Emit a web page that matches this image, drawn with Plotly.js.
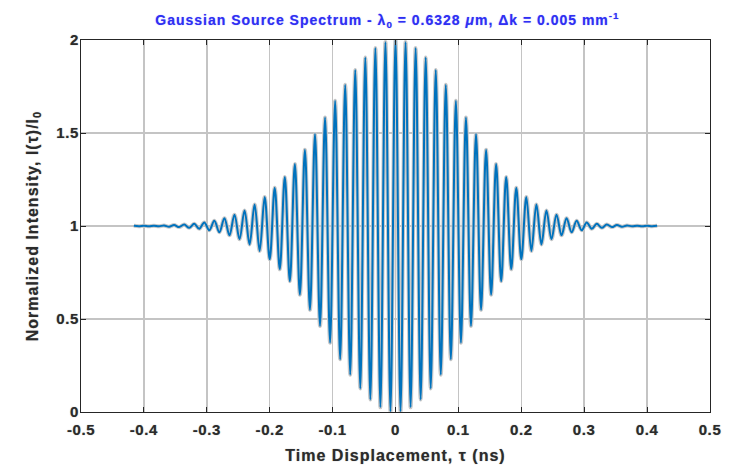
<!DOCTYPE html>
<html>
<head>
<meta charset="utf-8">
<script src="https://cdn.plot.ly/plotly-3.0.1.min.js"></script>
<style>
  html, body { margin: 0; padding: 0; background: #ffffff; }
  #chart { width: 731px; height: 468px; }
  #chart .xtick text, #chart .ytick text { letter-spacing: 0.6px; }
  #chart .xtitle, #chart .ytitle { letter-spacing: 1px; }
  #chart .gtitle { letter-spacing: 1px; }
</style>
</head>
<body>
<div id="chart"></div>
<script>
// Extrema of the interferogram (time in ns, normalized intensity)
const tau = [
  -0.416, -0.408, -0.400, -0.392, -0.384, -0.376, -0.368, -0.360, -0.352, -0.344,
  -0.336, -0.328, -0.320, -0.312, -0.304, -0.296, -0.288, -0.280, -0.272, -0.264,
  -0.256, -0.248, -0.240, -0.232, -0.224, -0.216, -0.208, -0.200, -0.192, -0.184,
  -0.176, -0.168, -0.160, -0.152, -0.144, -0.136, -0.128, -0.120, -0.112, -0.104,
  -0.096, -0.088, -0.080, -0.072, -0.064, -0.056, -0.048, -0.040, -0.032, -0.024,
  -0.016, -0.008, 0.000, 0.008, 0.016, 0.024, 0.032, 0.040, 0.048, 0.056,
  0.064, 0.072, 0.080, 0.088, 0.096, 0.104, 0.112, 0.120, 0.128, 0.136,
  0.144, 0.152, 0.160, 0.168, 0.176, 0.184, 0.192, 0.200, 0.208, 0.216,
  0.224, 0.232, 0.240, 0.248, 0.256, 0.264, 0.272, 0.280, 0.288, 0.296,
  0.304, 0.312, 0.320, 0.328, 0.336, 0.344, 0.352, 0.360, 0.368, 0.376,
  0.384, 0.392, 0.400, 0.408, 0.416
];
const intensity = [
  1.001, 0.999, 1.001, 0.999, 1.002, 0.998, 1.003, 0.996, 1.005, 0.994,
  1.008, 0.990, 1.012, 0.985, 1.019, 0.977, 1.028, 0.966, 1.042, 0.950,
  1.060, 0.929, 1.084, 0.901, 1.116, 0.866, 1.156, 0.821, 1.205, 0.767,
  1.264, 0.703, 1.333, 0.630, 1.410, 0.549, 1.494, 0.462, 1.583, 0.372,
  1.673, 0.283, 1.759, 0.200, 1.839, 0.126, 1.906, 0.067, 1.957, 0.025,
  1.989, 0.003, 2.000, 0.003, 1.989, 0.025, 1.957, 0.067, 1.906, 0.126,
  1.839, 0.200, 1.759, 0.283, 1.673, 0.372, 1.583, 0.462, 1.494, 0.549,
  1.410, 0.630, 1.333, 0.703, 1.264, 0.767, 1.205, 0.821, 1.156, 0.866,
  1.116, 0.901, 1.084, 0.929, 1.060, 0.950, 1.042, 0.966, 1.028, 0.977,
  1.019, 0.985, 1.012, 0.990, 1.008, 0.994, 1.005, 0.996, 1.003, 0.998,
  1.002, 0.999, 1.001, 0.999, 1.001
];
const xTickVals = [-0.5, -0.4, -0.3, -0.2, -0.1, 0, 0.1, 0.2, 0.3, 0.4, 0.5];
const xTickText = ['-0.5', '-0.4', '-0.3', '-0.2', '-0.1', '0', '0.1', '0.2', '0.3', '0.4', '0.5'];
const yTickVals = [0, 0.5, 1, 1.5, 2];
const yTickText = ['0', '0.5', '1', '1.5', '2'];

const chartTitle = 'Gaussian Source Spectrum - λ<sub>0</sub> = 0.6328 <i>μ</i>m, Δk = 0.005 mm<sup>-1</sup>';
const xTitle = 'Time Displacement, τ (ns)';
const yTitle = 'Normalized Intensity, I(τ)/I<sub>0</sub>';

const FONT = 'Liberation Sans, Arial, sans-serif';
const TEXT = '#2b2b2b';
const SHADOW = '0px 0px 1px rgba(60,60,60,0.6)';

const halo = {
  x: tau, y: intensity, type: 'scatter', mode: 'lines',
  line: { color: '#c9c9c9', width: 4, shape: 'spline', smoothing: 1 },
  hoverinfo: 'skip', showlegend: false
};
const curve = {
  x: tau, y: intensity, type: 'scatter', mode: 'lines',
  line: { color: '#0072BD', width: 2, shape: 'spline', smoothing: 1 },
  showlegend: false
};

const axisCommon = {
  showline: true, linecolor: '#262626', linewidth: 1, mirror: 'ticks',
  ticks: 'inside', ticklen: 5, tickcolor: '#262626', tickwidth: 1,
  showgrid: true, gridcolor: '#c4c4c4', gridwidth: 1.5,
  zeroline: false, automargin: false,
  tickfont: { family: FONT, size: 15, color: TEXT, weight: 'bold', shadow: SHADOW }
};

const layout = {
  width: 731, height: 468,
  paper_bgcolor: '#ffffff', plot_bgcolor: '#ffffff',
  margin: { l: 81, r: 21, t: 40, b: 56 },
  title: {
    text: chartTitle,
    font: { family: FONT, size: 14, color: '#2f2ff2', weight: 'bold', shadow: '0px 0px 1px rgba(80,80,255,0.6)' },
    x: 0.530, xanchor: 'center', y: 0.968, yanchor: 'top'
  },
  xaxis: Object.assign({}, axisCommon, {
    range: [-0.5, 0.5],
    tickmode: 'array', tickvals: xTickVals, ticktext: xTickText,
    ticklabelstandoff: 4,
    title: { text: xTitle, font: { family: FONT, size: 16, color: TEXT, weight: 'bold', shadow: SHADOW }, standoff: 12 }
  }),
  yaxis: Object.assign({}, axisCommon, {
    range: [0, 2],
    tickmode: 'array', tickvals: yTickVals, ticktext: yTickText,
    ticklabelstandoff: -2,
    title: { text: yTitle, font: { family: FONT, size: 16, color: TEXT, weight: 'bold', shadow: SHADOW }, standoff: 15 }
  }),
  showlegend: false
};

Plotly.newPlot('chart', [halo, curve], layout, { displayModeBar: false, staticPlot: true });
</script>
</body>
</html>
